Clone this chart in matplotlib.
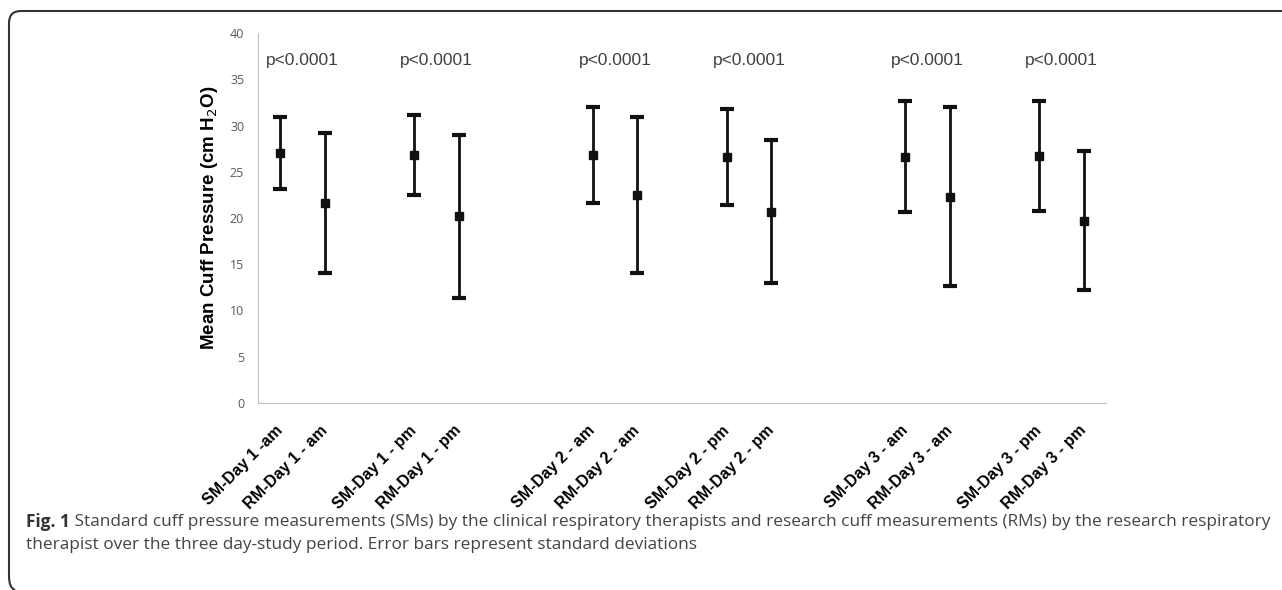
import matplotlib.pyplot as plt
from matplotlib.path import Path
from matplotlib.patches import PathPatch

# Data; blank categories are the gaps between groups
labels = ['SM-Day 1 -am', 'RM-Day 1 - am', '', 'SM-Day 1 - pm', 'RM-Day 1 - pm', '', '',
          'SM-Day 2 - am', 'RM-Day 2 - am', '', 'SM-Day 2 - pm', 'RM-Day 2 - pm', '', '',
          'SM-Day 3 - am', 'RM-Day 3 - am', '', 'SM-Day 3 - pm', 'RM-Day 3 - pm']
means = [27.0, 21.6, None, 26.8, 20.2, None, None, 26.8, 22.5, None,
         26.6, 20.7, None, None, 26.6, 22.3, None, 26.7, 19.7]
sds = [3.9, 7.6, None, 4.3, 8.8, None, None, 5.2, 8.4, None,
       5.2, 7.7, None, None, 6.0, 9.7, None, 5.9, 7.5]
p_text = ['p<0.0001'] * 6
caption_bold = 'Fig. 1'
caption_1 = (' Standard cuff pressure measurements (SMs) by the clinical respiratory '
             'therapists and research cuff measurements (RMs) by the research respiratory')
caption_2 = 'therapist over the three day-study period. Error bars represent standard deviations'

fig = plt.figure(figsize=(12.82, 5.9), dpi=100)
ax = fig.add_axes([0.2013, 0.317, 0.6615, 0.627])

xs = [i for i, m in enumerate(means) if m is not None]
ys = [means[i] for i in xs]
es = [sds[i] for i in xs]

ax.errorbar(xs, ys, yerr=es, fmt='s', color='#111111', ms=6, elinewidth=2,
            capsize=5, capthick=3)

# p-values centred over each SM/RM pair
for k in range(len(p_text)):
    cx = (xs[2 * k] + xs[2 * k + 1]) / 2
    ax.text(cx, 37, p_text[k], ha='center', va='center', fontsize=12.5,
            family='Liberation Sans', color='#404040')

ax.set_xlim(-0.5, len(labels) - 0.5)
ax.set_ylim(0, 40)
ax.set_yticks(range(0, 41, 5))
ax.set_xticks(range(len(labels)))
ax.set_xticklabels(labels, rotation=45, ha='right', va='center', rotation_mode='anchor',
                   fontsize=11.5, fontweight='bold', family='Liberation Sans')
ax.tick_params(axis='y', length=0, labelsize=9, labelcolor='#595959', pad=10)
ax.tick_params(axis='x', length=0, pad=18)
for lab in ax.get_yticklabels():
    lab.set_family('Open Sans')
ax.spines['top'].set_visible(False)
ax.spines['right'].set_visible(False)
ax.spines['left'].set_color('#c0c0c0')
ax.spines['bottom'].set_color('#c0c0c0')
ax.set_ylabel('Mean Cuff Pressure (cm H$_2$O)', fontsize=13.5, fontweight='bold',
              family='Liberation Sans', labelpad=7)

# frame around figure + caption (journal style)
W, H = 1282, 590
r = 12
verts = [(W / W, 1 - 11 / H), ((9 + r) / W, 1 - 11 / H), (9 / W, 1 - 11 / H),
         (9 / W, 1 - (11 + r) / H), (9 / W, 1 - (588 - r) / H),
         (9 / W, 1 - 588 / H), ((9 + r / 2) / W, 1 - 590 / H)]
codes = [Path.MOVETO, Path.LINETO, Path.CURVE3, Path.CURVE3, Path.LINETO,
         Path.CURVE3, Path.CURVE3]
fig.patches.append(PathPatch(Path(verts, codes), transform=fig.transFigure,
                             fill=False, lw=1.5, ec='#333333'))

t = fig.text(26 / W, 1 - 522 / H, caption_bold, fontsize=12.4, fontweight='bold',
             family='Open Sans', color='#333333', va='center')
fig.canvas.draw()
bb = t.get_window_extent()
fig.text(bb.x1 / W, 1 - 522 / H, caption_1, fontsize=12.4, family='Open Sans',
         color='#444444', va='center')
fig.text(26 / W, 1 - 545 / H, caption_2, fontsize=12.4, family='Open Sans',
         color='#444444', va='center')

fig.savefig('out.png', dpi=100)
